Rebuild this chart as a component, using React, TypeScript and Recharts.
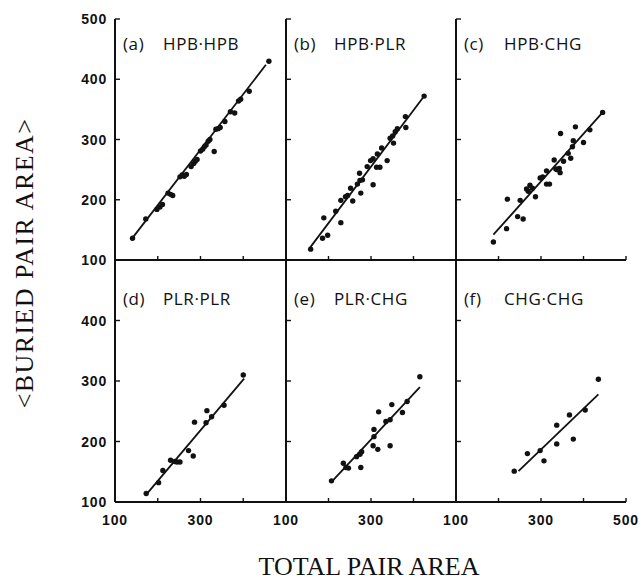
import { ScatterChart, Scatter, XAxis, YAxis } from "recharts"

type Pt = [number, number]

const axisTicks = [100, 200, 300, 400, 500]

const panelTags = ["(a)", "(b)", "(c)", "(d)", "(e)", "(f)"]
const pairNames = ["HPB·HPB", "HPB·PLR", "HPB·CHG", "PLR·PLR", "PLR·CHG", "CHG·CHG"]

// total pair area, buried pair area
const hpbHpb: Pt[] = [
  [141, 136], [172, 168], [198, 184], [205, 188], [211, 192], [224, 211], [230, 209], [235, 207],
  [252, 238], [257, 241], [262, 239], [267, 242], [278, 255], [284, 260], [288, 264], [292, 267],
  [300, 281], [305, 284], [309, 288], [313, 291], [318, 297], [322, 300], [332, 280], [336, 317],
  [341, 318], [346, 320], [357, 330], [370, 346], [380, 344], [389, 364], [394, 367], [414, 380],
  [460, 430],
]
const hpbPlr: Pt[] = [
  [158, 118], [186, 136], [198, 141], [189, 170], [217, 181], [229, 162], [229, 199], [240, 205],
  [245, 207], [257, 198], [252, 219], [268, 226], [274, 232], [280, 233], [273, 244], [276, 211],
  [291, 255], [299, 265], [305, 268], [315, 276], [305, 225], [313, 254], [321, 254], [325, 286],
  [338, 265], [345, 302], [351, 306], [357, 313], [362, 318], [353, 294], [381, 338], [382, 320],
  [425, 372],
]
const hpbChg: Pt[] = [
  [188, 130], [219, 152], [221, 201], [245, 172], [258, 168], [251, 199], [266, 218], [274, 224],
  [280, 219], [270, 214], [287, 205], [298, 236], [304, 238], [313, 248], [313, 226], [320, 226],
  [331, 266], [335, 251], [343, 252], [345, 245], [338, 250], [346, 310], [353, 264], [364, 277],
  [370, 269], [376, 298], [374, 288], [381, 321], [400, 295], [415, 316], [445, 345],
]
const plrPlr: Pt[] = [
  [173, 114], [202, 132], [212, 152], [230, 169], [240, 167], [245, 166], [252, 166], [272, 185],
  [283, 176], [286, 232], [313, 231], [315, 251], [326, 241], [355, 260], [400, 310],
]
const plrChg: Pt[] = [
  [207, 135], [235, 164], [241, 157], [247, 156], [266, 175], [274, 179], [278, 183], [276, 157],
  [307, 220], [307, 208], [305, 193], [316, 187], [318, 249], [335, 233], [345, 236], [349, 261],
  [345, 193], [374, 248], [385, 266], [415, 307],
]
const chgChg: Pt[] = [
  [237, 151], [268, 180], [298, 185], [307, 168], [337, 227], [337, 196], [367, 244], [376, 204],
  [404, 252], [435, 303],
]

// regression line end points
const hpbHpbFit: Pt[] = [[137, 133], [453, 424]]
const hpbPlrFit: Pt[] = [[157, 121], [423, 370]]
const hpbChgFit: Pt[] = [[188, 142], [445, 345]]
const plrPlrFit: Pt[] = [[174, 113], [402, 304]]
const plrChgFit: Pt[] = [[211, 136], [415, 290]]
const chgChgFit: Pt[] = [[247, 151], [435, 278]]

const panelPoints = [hpbHpb, hpbPlr, hpbChg, plrPlr, plrChg, chgChg]
const panelFits = [hpbHpbFit, hpbPlrFit, hpbChgFit, plrPlrFit, plrChgFit, chgChgFit]

// which tick values get a printed label
const xLabelsByCol = [[100, 300], [100, 300], [100, 300, 500]]
const yLabelsByRow = [[100, 200, 300, 400, 500], [100, 200, 300, 400]]

const colLeft = [115, 286, 456]
const colWidth = [171, 170, 170]
const rowTop = [19, 260]
const rowHeight = [241, 242]

const LEFT_W = 50
const BOTTOM_H = 30
const PAD = 10
const RIGHT_PAD = 14
const INK = "#111"

const tickFont = {
  fontFamily: "'Liberation Sans', Arial, sans-serif",
  fontWeight: 700,
  fontSize: 14,
  letterSpacing: 0.8,
  fill: INK,
}

const toXY = (pts: Pt[]) => pts.map(([x, y]) => ({ x, y }))

function BottomTick({ x, y, payload, labels }: any) {
  return (
    <g>
      <line x1={x} x2={x} y1={y} y2={y - 4} stroke={INK} strokeWidth={1.4} />
      {labels && labels.includes(payload.value) && (
        <text x={x} y={y + 23} textAnchor="middle" style={tickFont}>
          {payload.value}
        </text>
      )}
    </g>
  )
}

function TopTick({ x, y }: any) {
  return <line x1={x} x2={x} y1={y} y2={y + 4} stroke={INK} strokeWidth={1.4} />
}

function LeftTick({ x, y, payload, labels }: any) {
  return (
    <g>
      <line x1={x} x2={x + 5} y1={y} y2={y} stroke={INK} strokeWidth={1.4} />
      {labels && labels.includes(payload.value) && (
        <text x={x - 8} y={y} dy="0.36em" textAnchor="end" style={tickFont}>
          {payload.value}
        </text>
      )}
    </g>
  )
}

function RightTick({ x, y }: any) {
  return <line x1={x} x2={x - 5} y1={y} y2={y} stroke={INK} strokeWidth={1.4} />
}

function Panel({ index }: { index: number }) {
  const col = index % 3
  const row = Math.floor(index / 3)
  const w = colWidth[col]
  const h = rowHeight[row]
  const xLabels = row === 1 ? xLabelsByCol[col] : null
  const yLabels = col === 0 ? yLabelsByRow[row] : null
  const axisLine = { stroke: INK, strokeWidth: 2 }

  return (
    <div
      style={{
        position: "absolute",
        left: colLeft[col] - LEFT_W,
        top: rowTop[row] - PAD,
      }}
    >
      <ScatterChart
        width={LEFT_W + w + RIGHT_PAD}
        height={PAD + h + BOTTOM_H}
        margin={{ top: PAD, right: RIGHT_PAD, bottom: 0, left: 0 }}
      >
        <XAxis
          xAxisId="b"
          type="number"
          dataKey="x"
          domain={[100, 500]}
          ticks={axisTicks}
          interval={0}
          allowDataOverflow
          height={BOTTOM_H}
          tickSize={0}
          tickMargin={0}
          tickLine={false}
          axisLine={axisLine}
          tick={(p: any) => <BottomTick {...p} labels={xLabels} />}
        />
        <XAxis
          xAxisId="t"
          orientation="top"
          type="number"
          dataKey="x"
          domain={[100, 500]}
          ticks={axisTicks}
          interval={0}
          allowDataOverflow
          height={0}
          tickSize={0}
          tickMargin={0}
          tickLine={false}
          axisLine={axisLine}
          tick={(p: any) => <TopTick {...p} />}
        />
        <YAxis
          yAxisId="l"
          type="number"
          dataKey="y"
          domain={[100, 500]}
          ticks={axisTicks}
          interval={0}
          allowDataOverflow
          width={LEFT_W}
          tickSize={0}
          tickMargin={0}
          tickLine={false}
          axisLine={axisLine}
          tick={(p: any) => <LeftTick {...p} labels={yLabels} />}
        />
        <YAxis
          yAxisId="r"
          orientation="right"
          type="number"
          dataKey="y"
          domain={[100, 500]}
          ticks={axisTicks}
          interval={0}
          allowDataOverflow
          width={0}
          tickSize={0}
          tickMargin={0}
          tickLine={false}
          axisLine={axisLine}
          tick={(p: any) => <RightTick {...p} />}
        />
        <Scatter
          xAxisId="t"
          yAxisId="r"
          data={toXY(panelFits[index])}
          line={{ stroke: INK, strokeWidth: 1.8 }}
          shape={() => <g />}
          isAnimationActive={false}
        />
        <Scatter
          xAxisId="b"
          yAxisId="l"
          data={toXY(panelPoints[index])}
          shape={(p: any) => <circle cx={p.cx} cy={p.cy} r={2.7} fill={INK} />}
          isAnimationActive={false}
        />
      </ScatterChart>
    </div>
  )
}

export default function App() {
  const labelFont = {
    fontFamily: "'Open Sans', 'DejaVu Sans', sans-serif",
    fontSize: 17,
    fontWeight: 500,
    letterSpacing: 0.6,
    fill: INK,
  }
  const titleFont = {
    fontFamily: "'Liberation Serif', 'Times New Roman', serif",
    fontSize: 26,
    fill: INK,
  }

  return (
    <div style={{ position: "absolute", left: 0, top: 0, width: 641, height: 583, background: "#fff" }}>
      {panelTags.map((_, i) => (
        <Panel key={i} index={i} />
      ))}
      <svg
        width={641}
        height={583}
        style={{ position: "absolute", left: 0, top: 0, pointerEvents: "none" }}
      >
        {panelTags.map((tag, i) => {
          const col = i % 3
          const row = Math.floor(i / 3)
          const baseY = rowTop[row] + (row === 0 ? 31 : 45)
          return (
            <g key={tag}>
              <text x={colLeft[col] + 8} y={baseY} style={labelFont}>
                {tag}
              </text>
              <text x={colLeft[col] + 48} y={baseY} style={labelFont}>
                {pairNames[i]}
              </text>
            </g>
          )
        })}
        <text
          transform="translate(33, 263) rotate(-90)"
          textAnchor="middle"
          style={{ ...titleFont, letterSpacing: 1.4 }}
        >
          {"<BURIED PAIR AREA>"}
        </text>
        <text x={369} y={575} textAnchor="middle" style={titleFont}>
          TOTAL PAIR AREA
        </text>
      </svg>
    </div>
  )
}
